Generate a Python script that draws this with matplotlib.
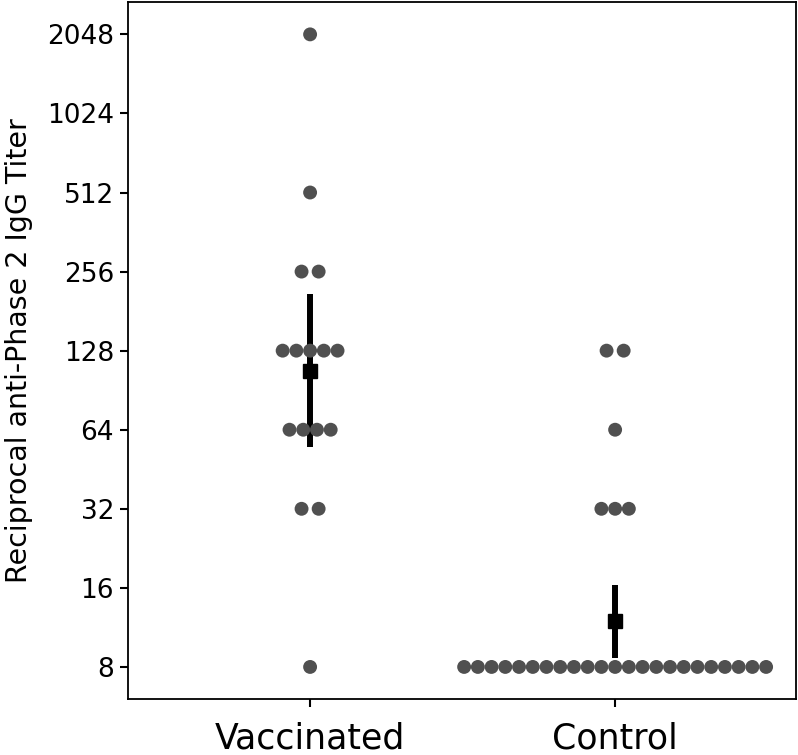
import matplotlib.pyplot as plt
import numpy as np

# groups and titer values (value, number of animals at that value)
groups = ["Vaccinated", "Control"]
vacc_titers = [2048, 512, 256, 128, 64, 32, 8]
vacc_counts = [1, 1, 2, 5, 4, 2, 1]
ctrl_titers = [128, 64, 32, 8]
ctrl_counts = [2, 1, 3, 23]

# geometric mean and 95% CI
gmean = [107, 12.0]
ci_low = [55, 8.66]
ci_high = [210, 16.4]

yticks = [8, 16, 32, 64, 128, 256, 512, 1024, 2048]

plt.rcParams['font.family'] = ['DejaVu Sans']

fig = plt.figure(figsize=(7.98, 7.55), dpi=100)
ax = fig.add_axes([128 / 798, 56 / 755, 668 / 798, 697 / 755])

dot_color = '#505050'


def swarm(xc, titers, counts):
    xs, ys = [], []
    for t, n in zip(titers, counts):
        gap = 0.056 if n == 2 else 0.045
        off = (np.arange(n) - (n - 1) / 2) * gap
        xs.extend(xc + off)
        ys.extend([t] * n)
    return xs, ys


for i, (tit, cnt) in enumerate([(vacc_titers, vacc_counts), (ctrl_titers, ctrl_counts)]):
    xc = i + 1
    # error bar (CI)
    ax.plot([xc, xc], [ci_low[i], ci_high[i]], color='black', lw=4.3,
            solid_capstyle='butt', zorder=2)
    xs, ys = swarm(xc, tit, cnt)
    ax.scatter(xs, ys, s=100, color=dot_color, edgecolors='none', zorder=3)
    ax.plot(xc, gmean[i], marker='s', ms=9.4, color='black', zorder=4)

ax.set_yscale('log', base=2)
ax.set_ylim(6.04, 2720)
ax.set_xlim(0.403, 2.593)
ax.set_yticks(yticks)
ax.set_yticklabels([str(v) for v in yticks])
ax.minorticks_off()
ax.set_xticks([1, 2])
ax.set_xticklabels(groups)

ax.tick_params(axis='y', labelsize=19, length=6, width=1.5, pad=4)
ax.tick_params(axis='x', labelsize=25, length=6, width=1.5, pad=10)
ax.set_ylabel("Reciprocal anti-Phase 2 IgG Titer", fontsize=20.5, labelpad=10)

for sp in ax.spines.values():
    sp.set_linewidth(1.3)
    sp.set_color('black')

plt.savefig("out.png", dpi=100)
